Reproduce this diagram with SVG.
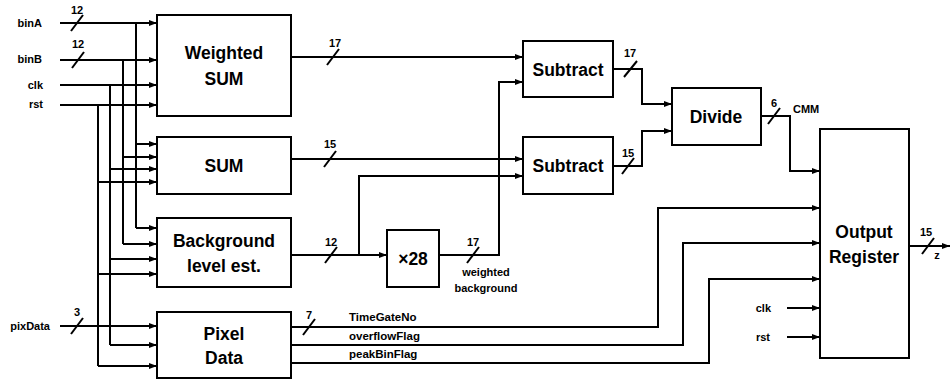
<svg xmlns="http://www.w3.org/2000/svg" width="950" height="381" viewBox="0 0 950 381">
<defs>
<marker id="arr" markerUnits="userSpaceOnUse" markerWidth="9" markerHeight="7" refX="8" refY="3" orient="auto"><path d="M0,0 L8,3 L0,6 z" fill="#000"/></marker>
<style>
.box{fill:#fff;stroke:#000;stroke-width:2}
.w{fill:none;stroke:#000;stroke-width:2}
.a{marker-end:url(#arr)}
.s{stroke:#000;stroke-width:2}
text{font-family:"Liberation Sans",Arial,sans-serif;font-weight:bold;fill:#000}
.t{font-size:17.5px;text-anchor:middle}
.l{font-size:11px}
.r{text-anchor:end}
.c{text-anchor:middle}
.sig{font-size:11.5px}
</style>
</defs>
<rect width="950" height="381" fill="#fff"/>

<g id="connectors">
<path class="w a" d="M60,23 H157"/>
<path class="w a" d="M60,60 H157"/>
<path class="w a" d="M60,85 H157"/>
<path class="w a" d="M60,105 H157"/>
<path class="w a" d="M60,326 H157"/>
<path class="w" d="M136,23 V228"/>
<path class="w" d="M123,60 V244"/>
<path class="w" d="M110,85 V345"/>
<path class="w" d="M98,105 V366"/>
<path class="w a" d="M136,144 H157"/>
<path class="w a" d="M123,157 H157"/>
<path class="w a" d="M110,169 H157"/>
<path class="w a" d="M98,182 H157"/>
<path class="w a" d="M136,228 H157"/>
<path class="w a" d="M123,244 H157"/>
<path class="w a" d="M110,259 H157"/>
<path class="w a" d="M98,274 H157"/>
<path class="w a" d="M110,345 H157"/>
<path class="w a" d="M98,366 H157"/>
<path class="w a" d="M291,57 H523"/>
<path class="w a" d="M291,159 H523"/>
<path class="w a" d="M291,255 H387"/>
<path class="w a" d="M359,255 V176 H523"/>
<path class="w a" d="M439,255 H499 V82 H523"/>
<path class="w a" d="M613,69 H642 V104 H672"/>
<path class="w a" d="M613,166 H642 V131 H672"/>
<path class="w a" d="M761,116 H790 V171 H820"/>
<path class="w a" d="M291,327 H658 V208 H820"/>
<path class="w a" d="M291,345 H683 V243 H820"/>
<path class="w a" d="M291,363 H709 V279 H820"/>
<path class="w a" d="M787,308 H820"/>
<path class="w a" d="M787,337 H820"/>
<path class="w a" d="M909,246 H950"/>
<!-- bus slashes -->
<path class="s" d="M71,31 L83,15"/>
<path class="s" d="M72,68 L84,52"/>
<path class="s" d="M71,334 L83,318"/>
<path class="s" d="M327,65 L339,49"/>
<path class="s" d="M324,167 L336,151"/>
<path class="s" d="M325,263 L337,247"/>
<path class="s" d="M467,263 L479,247"/>
<path class="s" d="M624,77 L637,61"/>
<path class="s" d="M622,174 L634,158"/>
<path class="s" d="M768,124 L780,108"/>
<path class="s" d="M303,335 L315,319"/>
<path class="s" d="M922,254 L934,238"/>
<text class="l c" x="77" y="14">12</text>
<text class="l c" x="78" y="48">12</text>
<text class="l c" x="77" y="316">3</text>
<text class="l c" x="335" y="47">17</text>
<text class="l c" x="330" y="148">15</text>
<text class="l c" x="331" y="246">12</text>
<text class="l c" x="473" y="246">17</text>
<text class="l c" x="630" y="57">17</text>
<text class="l c" x="628" y="157">15</text>
<text class="l c" x="774" y="107">6</text>
<text class="l c" x="309" y="319">7</text>
<text class="l c" x="926" y="236">15</text>
<text class="l c" x="937" y="259">z</text>
<text class="l" x="793" y="113">CMM</text>
<text class="l c" x="486" y="276">weighted</text>
<text class="l c" x="486" y="292">background</text>
<text class="sig" x="349" y="321">TimeGateNo</text>
<text class="sig" x="349" y="340">overflowFlag</text>
<text class="sig" x="349" y="358">peakBinFlag</text>
</g>

<g id="inputs">
<text class="l r" x="42" y="27">binA</text>
<text class="l r" x="42" y="63">binB</text>
<text class="l r" x="43" y="89">clk</text>
<text class="l r" x="43" y="108">rst</text>
<text class="l r" x="50" y="330">pixData</text>
<text class="l r" x="771" y="312">clk</text>
<text class="l r" x="770" y="341">rst</text>
</g>

<g id="weighted-sum"><rect class="box" x="157" y="15" width="134" height="101"/><text class="t" x="224" y="59">Weighted</text><text class="t" x="224" y="85">SUM</text></g>
<g id="sum"><rect class="box" x="157" y="137" width="134" height="57"/><text class="t" x="224" y="172">SUM</text></g>
<g id="background"><rect class="box" x="157" y="218" width="134" height="69"/><text class="t" x="224" y="247">Background</text><text class="t" x="224" y="272">level est.</text></g>
<g id="pixel-data"><rect class="box" x="157" y="312" width="134" height="66"/><text class="t" x="224" y="340">Pixel</text><text class="t" x="224" y="364">Data</text></g>
<g id="subtract1"><rect class="box" x="523" y="41" width="90" height="56"/><text class="t" x="568" y="76">Subtract</text></g>
<g id="subtract2"><rect class="box" x="523" y="137" width="90" height="57"/><text class="t" x="568" y="172">Subtract</text></g>
<g id="times28"><rect class="box" x="387" y="230" width="52" height="57"/><text class="t" x="413" y="265">×28</text></g>
<g id="divide"><rect class="box" x="672" y="88" width="89" height="57"/><text class="t" x="716" y="123">Divide</text></g>
<g id="output-register"><rect class="box" x="820" y="129" width="89" height="229"/><text class="t" x="864" y="238">Output</text><text class="t" x="864" y="263">Register</text></g>
</svg>
